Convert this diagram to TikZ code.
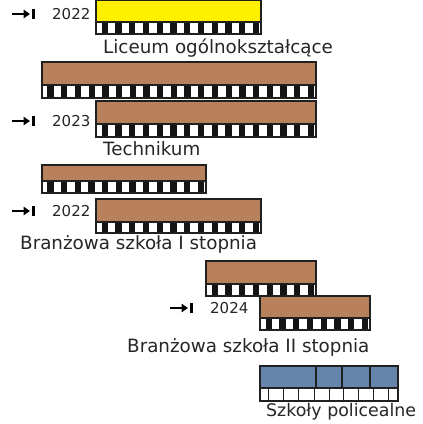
\documentclass[tikz,border=0pt]{standalone}
\usepackage{fontspec}
\setmainfont{DejaVu Sans}
\usetikzlibrary{arrows.meta}
\definecolor{brownbar}{HTML}{B8805B}
\definecolor{yellowbar}{HTML}{FFF000}
\definecolor{bluebar}{HTML}{6585AB}
\definecolor{edgecol}{HTML}{202020}
\tikzset{
  barline/.style={draw=edgecol,line width=1.1pt},
  lbl/.style={anchor=base west,inner sep=0pt,font=\fontsize{18.3}{18.3}\selectfont,text=black!85},
  yr/.style={anchor=base west,inner sep=0pt,font=\fontsize{15}{15}\selectfont,text=black!85},
  startarrow/.style={line width=2.2pt,-{Triangle[length=6.5pt,width=8.5pt]}},
  startbar/.style={line width=2.6pt},
}
\newcommand{\stripebar}[6]{%
  \fill[#6] (#1,#3) rectangle (#2,#4);
  \fill[white] (#1,#4) rectangle (#2,#5);
  \pgfmathtruncatemacro\ncell{round((#2-#1)/13.75)}%
  \pgfmathsetmacro\cw{(#2-#1)/\ncell}%
  \foreach \i in {1,...,\ncell}{%
    \pgfmathsetmacro\xa{#1+(\i-1)*\cw+0.40*\cw}%
    \pgfmathsetmacro\xb{#1+(\i-1)*\cw+0.86*\cw}%
    \fill[black!92] (\xa,#4) rectangle (\xb,#5);
  }
  \draw[barline] (#1,#3) rectangle (#2,#5);
  \draw[barline] (#1,#4) -- (#2,#4);
}
\newcommand{\startmark}[4]{% x of arrow start, y, text, name
  \coordinate (#4a) at (#1,#2);
  \coordinate (#4b) at (#1+18,#2);
  \draw[startarrow] (#4a) -- (#4b);
  \draw[startbar] (#1+21.5,#2-4.8) -- (#1+21.5,#2+4.8);
  \node[yr] (#4t) at (#1+40,#2+5.3) {#3};
}
\begin{document}
\begin{tikzpicture}[x=1pt,y=-1pt]
\useasboundingbox (0,0) rectangle (423,424);
\fill[white] (0,0) rectangle (423,424);
% Liceum
\stripebar{96}{261}{0.6}{22}{34}{yellowbar}
\startmark{12}{14}{2022}{m1}
\node[lbl] (l1) at (103,53) {Liceum ogólnokształcące};
% Technikum
\stripebar{42}{316}{62}{85}{98}{brownbar}
\stripebar{96}{316}{101}{124}{137}{brownbar}
\startmark{12}{121}{2023}{m2}
\node[lbl] (l2) at (103,155.5) {Technikum};
% Branzowa I
\stripebar{42}{206}{165}{181}{193}{brownbar}
\stripebar{96}{261}{199}{222}{233}{brownbar}
\startmark{12}{211}{2022}{m3}
\node[lbl] (l3) at (20,249.5) {Branżowa szkoła I stopnia};
% Branzowa II
\stripebar{206}{316}{261}{284}{296}{brownbar}
\stripebar{260}{370}{296}{318}{330}{brownbar}
\startmark{170}{308}{2024}{m4}
\node[lbl] (l4) at (127,352.5) {Branżowa szkoła II stopnia};
% Policealne
\fill[bluebar] (260,366) rectangle (398,388);
\fill[white] (260,388) rectangle (398,401);
\foreach \x in {316,342,370} \draw[barline] (\x,366) -- (\x,388);
\foreach \x in {268,283,298,314,329,343,358,373,388} \draw[edgecol,line width=1pt] (\x,388) -- (\x,401);
\draw[barline] (260,366) rectangle (398,401);
\draw[barline] (260,388) -- (398,388);
\node[lbl,font=\fontsize{17.4}{17.4}\selectfont] (l5) at (266,416.5) {Szkoły policealne};
\end{tikzpicture}
\end{document}
